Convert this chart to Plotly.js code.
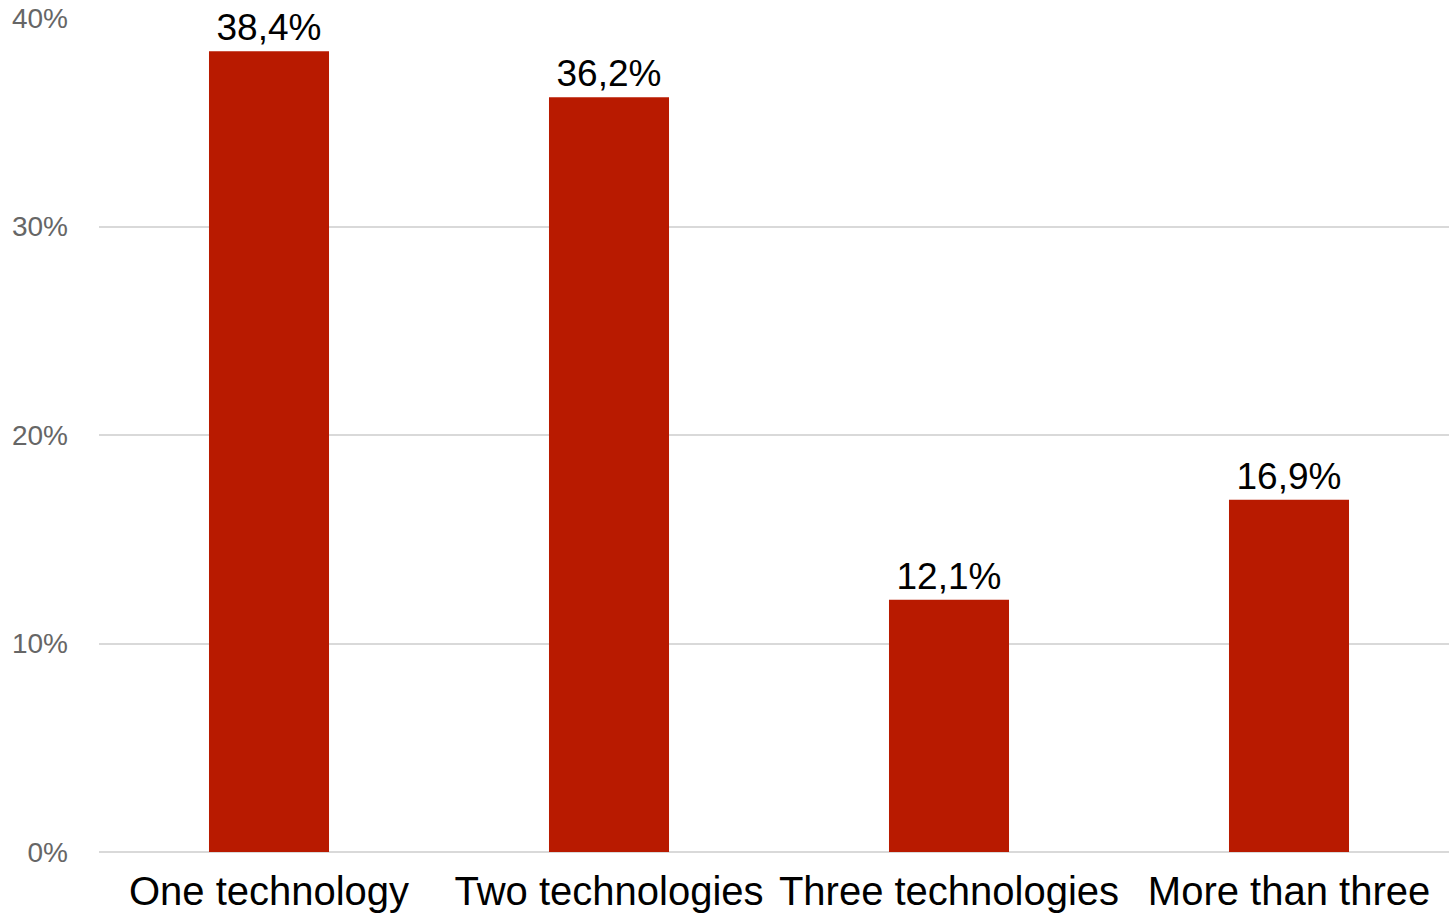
<!DOCTYPE html>
<html>
<head>
<meta charset="utf-8">
<script src="https://cdn.plot.ly/plotly-3.0.1.min.js"></script>
<style>html,body{margin:0;padding:0;background:#fff;overflow:hidden;}#chart{width:1459px;height:915px;}</style>
</head>
<body>
<div id="chart"></div>
<script>
const categories = ["One technology", "Two technologies", "Three technologies", "More than three"];
const values = [38.4, 36.2, 12.1, 16.9];
const yTicks = [0, 10, 20, 30, 40];
const yTickLabels = ["0%", "10%", "20%", "30%", "40%"];

const trace = {
  type: "bar",
  x: categories,
  y: values,
  marker: {color: "#B81A00"},
  text: values.map(v => v.toFixed(1).replace(".", ",") + "%"),
  texttemplate: "%{text}",
  textposition: "outside",
  textfont: {family: "Liberation Sans, Arial, sans-serif", size: 37, color: "#000"},
  cliponaxis: false,
  hoverinfo: "none"
};

const layout = {
  width: 1459, height: 915,
  margin: {l: 99, r: 0, t: 18, b: 63},
  paper_bgcolor: "#fff", plot_bgcolor: "#fff",
  font: {family: "Liberation Sans, Arial, sans-serif"},
  bargap: 0.647,
  showlegend: false,
  xaxis: {
    type: "category",
    tickfont: {size: 40, color: "#000"},
    showgrid: false, showline: false, ticks: "",
    ticklabelstandoff: 12
  },
  yaxis: {
    range: [0, 40],
    tickmode: "array",
    tickvals: yTicks,
    ticktext: yTickLabels,
    tickfont: {size: 28, color: "#666"},
    showgrid: true, gridcolor: "#d9d9d9", gridwidth: 2,
    zeroline: true, zerolinecolor: "#d9d9d9", zerolinewidth: 2,
    showline: false, ticks: "",
    ticklabelstandoff: 30,
    fixedrange: true
  }
};

Plotly.newPlot("chart", [trace], layout, {displayModeBar: false, staticPlot: true});
</script>
</body>
</html>
